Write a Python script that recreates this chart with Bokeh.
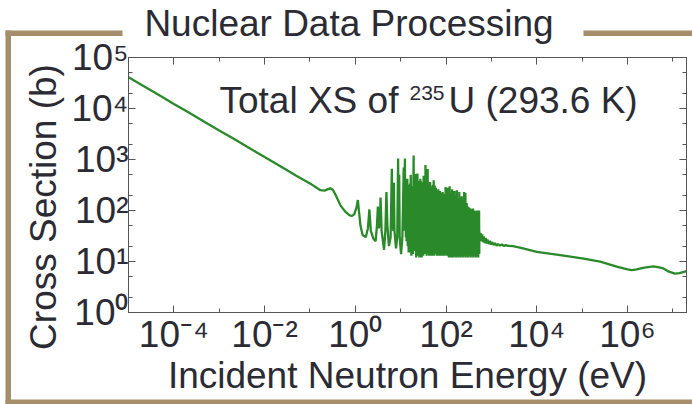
import math
from bokeh.plotting import figure
from bokeh.models import (Range1d, LogAxis, FixedTicker, CustomJSTickFormatter,
                          Label, GridBox)
from bokeh.embed import file_html
from bokeh.resources import INLINE

# ---------------- data ----------------
thermal_e = [1e-5, 2e-5, 5e-5, 1e-4, 2e-4, 5e-4, 1e-3, 2e-3, 5e-3, 1e-2, 2e-2, 0.0253,
             0.05, 0.1, 0.17, 0.21, 0.25, 0.28, 0.32, 0.38, 0.47, 0.6, 0.75, 0.85, 0.95,
             1.05, 1.14, 1.2, 1.3, 1.45, 1.7, 1.9, 2.04, 2.2, 2.5, 2.8, 3.0, 3.14, 3.3,
             3.5, 3.6, 3.8, 4.3, 4.6, 4.85, 5.1, 5.5, 6.0, 6.39, 6.6, 6.9, 7.08, 7.3,
             7.9, 8.4, 8.78, 9.0, 9.28, 9.5, 10.2, 10.9, 11.3, 11.66, 11.9]
thermal_xs = [41000, 28500, 17700, 12300, 8600, 5300, 3700, 2600, 1600, 1120, 780, 690,
              480, 340, 250, 245, 262, 272, 255, 190, 126, 95, 80, 78, 85,
              110, 160, 100, 50, 33, 30, 45, 105, 40, 28, 25, 50, 120, 45,
              60, 180, 40, 17, 40, 230, 50, 20, 30, 660, 60, 40, 350, 40,
              18, 30, 1050, 60, 500, 30, 14, 30, 150, 700, 40]

res1_e = [12.39, 12.6, 12.85, 13.0, 13.28, 13.5, 13.70, 13.85, 14.03, 14.3, 14.54, 15.0,
          15.4, 15.8, 16.09, 16.4, 16.67, 17.2, 18.05, 18.7, 19.29, 19.7, 20.15, 20.4,
          20.6, 20.85, 21.07, 22.0, 22.94, 23.2, 23.42, 23.8, 24.25, 24.7, 25.18, 25.8,
          26.47, 26.8, 27.15, 27.5, 27.8, 28.1, 28.35, 29.0, 29.65, 30.2, 30.6, 30.75,
          30.86, 31.5, 32.07, 32.8, 33.52, 34.0, 34.37, 34.8, 35.17, 35.3, 35.45, 36.0,
          36.6, 37.5, 38.3, 38.9, 39.41, 39.9, 40.5, 41.0, 41.4, 41.65, 41.9, 42.6,
          43.3, 44.0, 44.6, 45.7, 46.9, 47.4, 47.9, 48.6, 49.4, 50.3, 51.3, 51.8,
          52.2, 52.8, 53.4, 54.2, 55.1, 55.8, 56.5, 57.3, 58.1, 58.9, 59.7, 59.9,
          60.1, 60.5, 61.0, 61.3, 61.6, 62.5, 63.4, 64.5, 65.7, 66.7, 67.7, 69.0,
          70.3, 70.9, 71.4, 72.0, 72.7, 73.3, 73.8, 74.6, 75.5, 76.5, 77.5, 78.0,
          78.5, 79.5, 80.6, 81.6, 82.7, 83.5, 84.3, 84.9, 85.5, 87.0, 88.6, 89.5,
          90.4, 91.5, 92.7, 93.6, 94.6, 95.2, 95.8, 96.7, 97.7, 98.8, 99.9]
res1_xs = [1050, 60, 350, 30, 300, 25, 250, 30, 420, 20, 320, 15,
           260, 15, 340, 20, 500, 13, 300, 14, 1200, 20, 280, 18,
           330, 16, 520, 12, 260, 18, 530, 15, 380, 13, 260, 12,
           300, 14, 420, 13, 380, 16, 260, 12, 340, 14, 290, 18,
           360, 13, 480, 14, 300, 15, 450, 16, 780, 20, 420, 14,
           290, 13, 350, 15, 650, 16, 300, 14, 320, 16, 250, 13,
           280, 14, 360, 13, 240, 15, 300, 14, 270, 13, 320, 15,
           260, 14, 390, 13, 240, 15, 310, 14, 230, 15, 280, 17,
           200, 15, 250, 16, 190, 13, 240, 14, 210, 13, 260, 14,
           200, 15, 230, 14, 190, 15, 240, 13, 200, 14, 220, 15,
           180, 13, 210, 14, 190, 14, 230, 15, 170, 13, 200, 14,
           180, 13, 210, 14, 170, 15, 190, 14, 290, 14, 180]

res2_e = [100.8, 102, 103.5, 105, 106.5, 108, 109.5, 111, 112.5, 114, 115.5, 117, 118.5,
          120, 122, 124, 126, 128, 130, 132, 134, 136, 138, 140, 142, 144, 146, 148,
          150.5, 153, 155.5, 158, 160.5, 163, 165.5, 168, 170.5, 173, 175.5, 178, 181,
          184, 187, 190, 193, 196, 199, 202, 205, 208, 211.5, 215, 218.5, 222, 225.5,
          229, 232.5, 236, 239.5, 243, 247, 251, 255, 259, 263, 267, 271.5, 276, 280.5,
          285, 289.5, 294, 298.5, 303, 308, 313, 318, 323, 328.5, 334, 339.5, 345,
          350.5, 356, 362, 368, 374, 380, 386, 392, 398.5, 405, 411.5, 418, 425, 432,
          439, 446, 453, 460, 467.5, 475, 482.5, 490, 497.5, 505, 512.5, 520, 527.5,
          535, 540]
res2_xs = [14, 230, 13, 140, 18, 280, 13, 120, 16, 190, 12, 150, 20,
           300, 13, 110, 17, 220, 12, 130, 19, 260, 13, 150, 15, 200, 12, 105,
           18, 240, 13, 130, 16, 190, 12, 115, 20, 250, 13, 150, 17,
           170, 12, 110, 19, 230, 13, 130, 16, 180, 12, 100, 20, 190, 13,
           120, 17, 150, 12, 95, 19, 230, 13, 110, 16, 220, 12, 100, 20,
           140, 13, 90, 17, 120, 12, 100, 20, 115, 13, 85, 18, 110,
           12, 90, 20, 105, 13, 80, 17, 110, 12, 80, 21, 100, 13, 75,
           18, 95, 12, 80, 22, 100, 13, 70, 20, 95, 12, 80, 21,
           100, 14]

tail_e = [545, 560, 580, 600, 625, 650, 680, 710, 745, 780, 820, 870, 920, 980, 1050,
          1120, 1200, 1300, 1400, 1550, 1700, 1900, 2100, 2250]
tail_xs = [38, 26, 36, 25, 34, 24, 31, 23, 29, 22.5, 27, 22, 25.5, 21.5, 24,
           21, 23, 20.5, 22, 20.5, 21.5, 20.2, 21, 20.3]

fast_e = [3000, 5000, 1e4, 3e4, 1e5, 2.5e5, 5.8e5, 1e6, 1.25e6, 1.6e6, 2.2e6, 3.7e6,
          5e6, 6.2e6, 8e6, 1.1e7, 1.4e7, 2e7]
fast_xs = [20, 18, 15.5, 13.5, 11.5, 9.9, 7.9, 7.0, 6.8, 7.0, 7.5, 8.0,
           7.7, 7.3, 6.4, 5.8, 5.9, 6.5]

energy_ev = thermal_e + res1_e + res2_e + tail_e + fast_e
xs_barn = thermal_xs + res1_xs + res2_xs + tail_xs + fast_xs

x_major = [1e-4, 1e-2, 1e0, 1e2, 1e4, 1e6]
x_minor = [1e-5, 1e-3, 1e-1, 1e1, 1e3, 1e5, 1e7]
y_major = [1e0, 1e1, 1e2, 1e3, 1e4, 1e5]
y_minor = [2, 5, 20, 50, 200, 500, 2000, 5000, 20000, 50000]

title_text = "Nuclear Data Processing"
y_title = "Cross Section (b)"
x_title = "Incident Neutron Energy (eV)"

# ---------------- styling ----------------
FONT = "Liberation Sans"
TXT = "#2b2b34"
AX = "#555555"
TAN = "#A68E6A"
GREEN = "#2a8a2a"

W, H = 692, 404
FL, FR, FT, FB = 128, 686, 57, 312   # frame edges in canvas px

# ---- background figure: decoration frame, title, y title (canvas pixel coords) ----
bg = figure(width=W, height=H, x_range=Range1d(0, W), y_range=Range1d(H, 0),
            output_backend="svg", toolbar_location=None,
            x_axis_location=None, y_axis_location=None,
            min_border=0, min_border_left=0, min_border_right=0,
            min_border_top=0, min_border_bottom=0)
bg.grid.visible = False
bg.outline_line_color = None
bg.background_fill_color = "white"
bg.border_fill_color = "white"
deco_l = [5, 5, 583, 5]
deco_r = [10.5, 122, 692, 692]
deco_t = [30, 30, 30, 399]
deco_b = [404, 35.5, 35.5, 404]
bg.quad(left=deco_l, right=deco_r, top=deco_t, bottom=deco_b,
        fill_color=TAN, line_color=None)
bg.add_layout(Label(x=348.5, y=23.0, text=title_text, text_align="center",
                    text_baseline="middle", text_font=FONT, text_font_size="37px",
                    text_color=TXT))
bg.add_layout(Label(x=42.5, y=206.5, text=y_title, text_align="center",
                    angle=math.pi / 2, text_baseline="middle", text_font=FONT,
                    text_font_size="37px", text_color=TXT))

# ---- main figure ----
p = figure(width=W, height=H, x_axis_type="log", y_axis_type="log",
           x_range=Range1d(1e-5, 2e7), y_range=Range1d(1, 1e5),
           output_backend="svg", toolbar_location=None,
           min_border_left=FL, min_border_right=W - FR,
           min_border_top=FT, min_border_bottom=H - FB)
p.grid.visible = False
p.outline_line_color = AX
p.background_fill_color = None
p.border_fill_color = None

sup_fmt = CustomJSTickFormatter(code="""
const sup = {"-": "\\u207B", "0": "\\u2070", "1": "\\u00B9", "2": "\\u00B2", "3": "\\u00B3",
             "4": "\\u2074", "5": "\\u2075", "6": "\\u2076", "7": "\\u2077", "8": "\\u2078", "9": "\\u2079"};
const e = Math.round(Math.log10(tick));
return "10" + String(e).split("").map(c => sup[c]).join("");
""")
blank_fmt = CustomJSTickFormatter(code="return '';")

def style_axis(ax, labels):
    ax.axis_line_color = AX
    ax.major_tick_line_color = AX
    ax.minor_tick_line_color = AX
    ax.major_tick_out = 0
    ax.minor_tick_out = 0
    ax.major_tick_in = 7
    ax.minor_tick_in = 4
    if labels:
        ax.formatter = sup_fmt
        ax.major_label_text_font = FONT
        ax.major_label_text_font_size = "37px"
        ax.major_label_text_color = TXT
        ax.major_label_standoff = 0
    else:
        ax.formatter = blank_fmt
        ax.major_label_text_font_size = "0px"
        ax.major_label_standoff = 0

xb = p.xaxis[0]
xb.ticker = FixedTicker(ticks=x_major, minor_ticks=x_minor)
style_axis(xb, True)
xb.major_label_standoff = 1
xb.axis_label = x_title
xb.axis_label_text_font = FONT
xb.axis_label_text_font_size = "37px"
xb.axis_label_text_font_style = "normal"
xb.axis_label_text_color = TXT
xb.axis_label_standoff = -3

yl = p.yaxis[0]
yl.ticker = FixedTicker(ticks=y_major, minor_ticks=y_minor)
style_axis(yl, True)

xt = LogAxis(ticker=FixedTicker(ticks=x_major, minor_ticks=x_minor))
style_axis(xt, False)
p.add_layout(xt, "above")
yr = LogAxis(ticker=FixedTicker(ticks=y_major, minor_ticks=y_minor))
style_axis(yr, False)
p.add_layout(yr, "right")

p.line(energy_ev, xs_barn, line_color=GREEN, line_width=2.3)

# screen units: relative to frame bottom-left, y upwards
def sx(cx):
    return cx - FL

def sy(cy):
    return FB - cy

p.add_layout(Label(x=sx(219), y=sy(99.5), x_units="screen", y_units="screen",
                   text="Total XS of", text_align="left",
                   text_baseline="middle", text_font=FONT, text_font_size="37px",
                   text_color=TXT))
p.add_layout(Label(x=sx(409), y=sy(92.0), x_units="screen", y_units="screen",
                   text="235", text_align="left",
                   text_baseline="middle", text_font=FONT, text_font_size="21px",
                   text_color=TXT))
p.add_layout(Label(x=sx(448), y=sy(99.5), x_units="screen", y_units="screen",
                   text="U (293.6 K)", text_align="left",
                   text_baseline="middle", text_font=FONT, text_font_size="37px",
                   text_color=TXT))

# keep the two overlaid canvases from aligning their frames
for fig in (bg, p):
    try:
        fig.frame_align = False
    except Exception:
        pass

layout = GridBox(children=[(bg, 0, 0), (p, 0, 0)])
open("out.html", "w").write(file_html(layout, INLINE))
